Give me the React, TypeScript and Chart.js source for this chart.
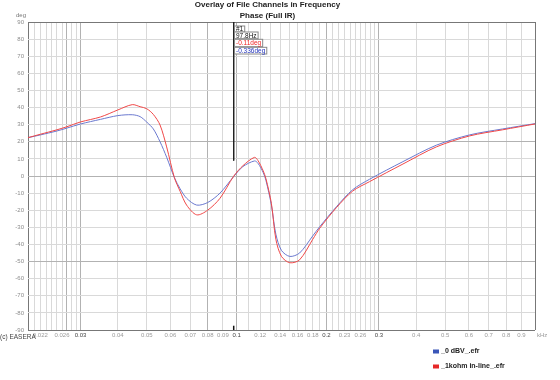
import React, { useEffect, useRef } from "react";
import { Chart, registerables } from "chart.js";

Chart.register(...registerables);

// ---- data (frequency in kHz, phase in degrees) ----
const freqKHz = [
  0.02, 0.022, 0.025, 0.027, 0.03, 0.035, 0.04, 0.0447, 0.0475, 0.05, 0.0526,
  0.0554, 0.0583, 0.0619, 0.0647, 0.068, 0.0735, 0.08, 0.088, 0.0978, 0.105,
  0.1148, 0.118, 0.1228, 0.1254, 0.1308, 0.1354, 0.1414, 0.1508, 0.1626, 0.18,
  0.19, 0.216, 0.245, 0.279, 0.361, 0.467, 0.603, 0.779, 1.0,
];
const blueDeg = [
  22.4, 24, 26.3, 28, 30.4, 33.1, 35.3, 35.8, 34.7, 31.5, 27.5, 20, 11, -1,
  -7.5, -13, -17, -15.5, -10, -0.3, 5.5, 8.8, 7.4, 2, -2.5, -17, -34, -43.5,
  -47, -45, -35, -29.6, -18, -8, -1.9, 8.4, 18, 24, 27.5, 30.6,
];
const redDeg = [
  22.4, 24.4, 27, 28.8, 31.6, 34.5, 38.6, 41.7, 40.5, 39.3, 36, 29.8, 17, -1,
  -9, -17, -22.7, -20, -13, -0.1, 6, 10.9, 9, 3, -1.5, -16, -37, -47, -50.7,
  -49, -37, -30.5, -18.5, -8.8, -3.3, 7, 17, 23.4, 27, 30.4,
];

const seriesNames = ["_0 dBV_.efr", "_1kohm in-line_.efr"];

// ---- axis ticks ----
const xGridValues = [
  0.02, 0.021, 0.022, 0.023, 0.024, 0.025, 0.026, 0.027, 0.028, 0.029, 0.03,
  0.04, 0.05, 0.06, 0.07, 0.08, 0.09, 0.1, 0.11, 0.12, 0.13, 0.14, 0.15, 0.16,
  0.17, 0.18, 0.19, 0.2, 0.21, 0.22, 0.23, 0.24, 0.25, 0.26, 0.27, 0.28, 0.29,
  0.3, 0.4, 0.5, 0.6, 0.7, 0.8, 0.9, 1.0,
];
const xLabelValues = [
  "0.022", "0.026", "0.03", "0.04", "0.05", "0.06", "0.07", "0.08", "0.09",
  "0.1", "0.12", "0.14", "0.16", "0.18", "0.2", "0.23", "0.26", "0.3", "0.4",
  "0.5", "0.6", "0.7", "0.8", "0.9",
];
const xStrongLabels = ["0.03", "0.1", "0.2", "0.3"];
const xDarkGrid = [0.027, 0.03, 0.08, 0.1, 0.2, 0.3];
const yDarkGrid = [20, 0, -50];

const cursorKHz = 0.0978;
const cursorTopDeg = 90;
const cursorEndDeg = 9;
const cursorTexts = ["#1", "97.8Hz", "-0.11deg", "-0.336deg"];

const BLUE = "#6b79cf";
const RED = "#f04848";
const FONT = '"Liberation Sans", Arial, sans-serif';

const near = (a: number, b: number) => Math.abs(a - b) < 1e-9;
const labelFor = (v: number) => {
  const hit = xLabelValues.find((s) => near(parseFloat(s), v));
  return hit ?? "";
};

const extrasPlugin = {
  id: "extras",
  afterDraw(chart: any) {
    const ctx = chart.ctx;
    const xs = chart.scales.x;
    ctx.save();
    ctx.textBaseline = "middle";
    // axis units
    ctx.font = `6px ${FONT}`;
    ctx.fillStyle = "#777";
    ctx.textAlign = "center";
    ctx.fillText("deg", 21, 15);
    ctx.textAlign = "left";
    ctx.fillStyle = "#999";
    ctx.fillText("kHz", 537, 335);
    // copyright
    ctx.font = `6.5px ${FONT}`;
    ctx.fillStyle = "#444";
    ctx.fillText("(c) EASERA", 0, 337.5);
    // legend
    const legendColors = ["#3a56b8", "#e62828"];
    const legendY = [351.5, 366.5];
    ctx.font = `bold 7px ${FONT}`;
    seriesNames.forEach((n, i) => {
      ctx.fillStyle = legendColors[i];
      ctx.fillRect(433, legendY[i] - 2, 6, 4);
      ctx.fillStyle = "#222";
      ctx.fillText(n, 441, legendY[i]);
    });
    // cursor boxes
    const cx = Math.round(xs.getPixelForValue(cursorKHz)) + 0.5;
    const rows = [
      { y: 26, h: 6, c: "#111" },
      { y: 32, h: 6.7, c: "#111" },
      { y: 39.3, h: 7.4, c: "#ee2222" },
      { y: 47.3, h: 6.7, c: "#2233bb" },
    ];
    ctx.font = `6.5px ${FONT}`;
    cursorTexts.forEach((t, i) => {
      const r = rows[i];
      const w = ctx.measureText(t).width + 3;
      ctx.fillStyle = "#fff";
      ctx.fillRect(cx, r.y, w, r.h);
      ctx.strokeStyle = "#888";
      ctx.lineWidth = 1;
      ctx.strokeRect(cx, r.y, w, r.h);
      ctx.fillStyle = r.c;
      ctx.fillText(t, cx + 1.5, r.y + r.h / 2 + 0.5);
    });
    ctx.restore();
  },
};

export default function App() {
  const ref = useRef<HTMLCanvasElement | null>(null);

  useEffect(() => {
    if (!ref.current) return;
    const blue = freqKHz.map((f, i) => ({ x: f, y: blueDeg[i] }));
    const red = freqKHz.map((f, i) => ({ x: f, y: redDeg[i] }));
    const chart = new Chart(ref.current, {
      type: "line",
      data: {
        datasets: [
          {
            label: seriesNames[1],
            data: red,
            borderColor: RED,
            borderWidth: 1,
            pointRadius: 0,
            tension: 0.3,
            order: 1,
          },
          {
            label: seriesNames[0],
            data: blue,
            borderColor: BLUE,
            borderWidth: 1,
            pointRadius: 0,
            tension: 0.3,
            order: 2,
          },
          {
            label: "cursor",
            data: [
              { x: cursorKHz, y: cursorTopDeg },
              { x: cursorKHz, y: cursorEndDeg },
            ],
            borderColor: "#222",
            borderWidth: 1,
            pointRadius: 0,
            order: 0,
          },
          {
            label: "cursor-tick",
            data: [
              { x: cursorKHz, y: -90 },
              { x: cursorKHz, y: -87.5 },
            ],
            borderColor: "#111",
            borderWidth: 1.5,
            pointRadius: 0,
            order: 0,
          },
        ],
      },
      options: {
        animation: false,
        responsive: false,
        devicePixelRatio: 1,
        layout: { padding: { left: 0, right: 25, top: 0, bottom: 0 } },
        plugins: {
          legend: { display: false },
          tooltip: { enabled: false },
          title: {
            display: true,
            text: ["Overlay of File Channels in Frequency", "Phase (Full IR)"],
            font: { size: 8, weight: "bold", family: FONT, lineHeight: 1.3 },
            color: "#222",
            padding: { top: 0, bottom: 1.2 },
          },
        },
        scales: {
          x: {
            type: "logarithmic",
            min: 0.02,
            max: 1,
            afterBuildTicks: (scale: any) => {
              scale.ticks = xGridValues.map((v) => ({ value: v }));
            },
            afterFit: (scale: any) => {
              scale.height = 50;
            },
            border: { display: false },
            grid: {
              drawTicks: false,
              lineWidth: 1,
              color: (c: any) => {
                const v = c.tick ? c.tick.value : 0;
                if (near(v, 0.02) || near(v, 1)) return "#777";
                if (xDarkGrid.some((d) => near(d, v))) return "#b2b2b2";
                return "#d9d9d9";
              },
            },
            ticks: {
              autoSkip: false,
              maxRotation: 0,
              padding: 2,
              font: { size: 6, family: FONT },
              color: (c: any) =>
                xStrongLabels.includes(labelFor(c.tick ? c.tick.value : 0))
                  ? "#444"
                  : "#9a9a9a",
              callback: (v: any) => labelFor(Number(v)),
            },
          },
          y: {
            type: "linear",
            min: -90,
            max: 90,
            afterFit: (scale: any) => {
              scale.width = 28;
            },
            border: { display: false },
            grid: {
              drawTicks: false,
              lineWidth: 1,
              color: (c: any) => {
                const v = c.tick ? c.tick.value : 0;
                if (v === 90 || v === -90) return "#777";
                if (yDarkGrid.includes(v)) return "#b2b2b2";
                return "#d9d9d9";
              },
            },
            ticks: {
              stepSize: 10,
              padding: 4,
              font: { size: 6, family: FONT },
              color: "#8c8c8c",
            },
          },
        },
      },
      plugins: [extrasPlugin],
    } as any);
    return () => chart.destroy();
  }, []);

  return (
    <div style={{ position: "absolute", left: 0, top: 0, width: 560, height: 380, background: "#fff" }}>
      <canvas ref={ref} width={560} height={380} style={{ width: 560, height: 380 }} />
    </div>
  );
}
